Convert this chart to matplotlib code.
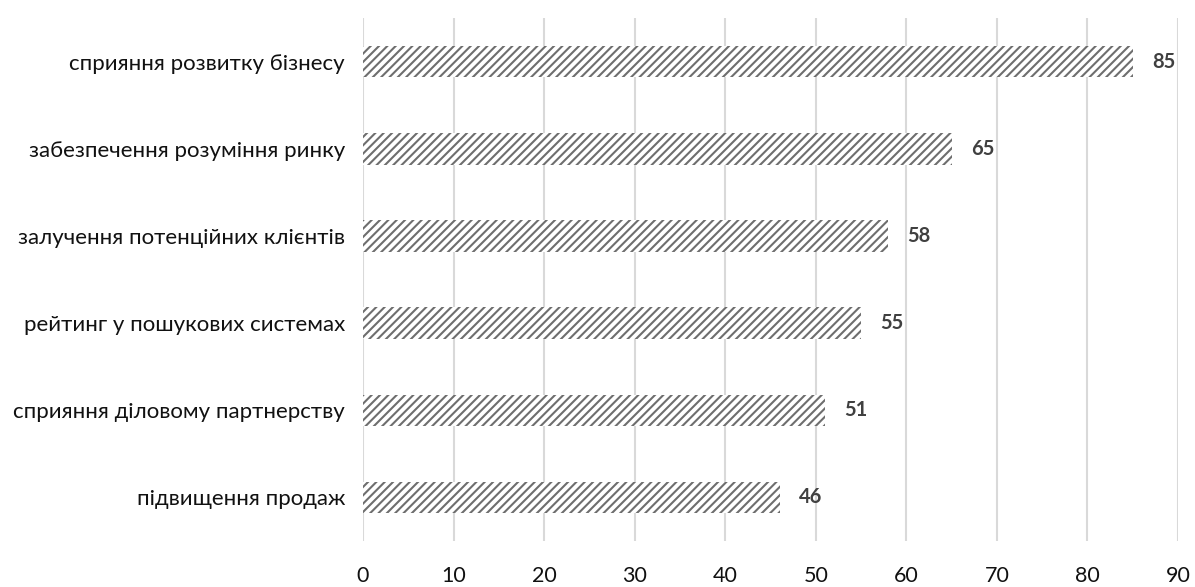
import matplotlib
matplotlib.use("Agg")
import matplotlib.pyplot as plt

categories = [
    "сприяння розвитку бізнесу",
    "забезпечення розуміння ринку",
    "залучення потенційних клієнтів",
    "рейтинг у пошукових системах",
    "сприяння діловому партнерству",
    "підвищення продаж",
]
values = [85, 65, 58, 55, 51, 46]
xticks = [0, 10, 20, 30, 40, 50, 60, 70, 80, 90]

plt.rcParams["font.family"] = ["Lato", "DejaVu Sans"]
plt.rcParams["hatch.linewidth"] = 1.5

fig = plt.figure(figsize=(11.95, 5.87), dpi=100)
ax = fig.add_axes([0.3038, 0.0784, 0.682, 0.8906])

ypos = list(range(len(categories)))
ax.barh(ypos, values, height=0.36, color="white", edgecolor="#6e6e6e",
        hatch="////", linewidth=0, zorder=3)

for y, v in zip(ypos, values):
    ax.text(v + 2.1, y, str(v), va="center", ha="left", fontsize=14.5,
            fontweight="bold", color="#404040", zorder=4)

ax.set_xlim(0, 90)
ax.set_ylim(len(categories) - 0.5, -0.5)
ax.set_yticks(ypos)
ax.set_yticklabels(categories, fontsize=16, color="#111111")
ax.set_xticks(xticks)
ax.set_xticklabels([str(t) for t in xticks], fontsize=15.5, color="#111111")
ax.tick_params(axis="both", length=0)
ax.tick_params(axis="y", pad=13)
ax.tick_params(axis="x", pad=18)
ax.xaxis.grid(True, color="#d9d9d9", linewidth=1.5, zorder=0)
for s in ax.spines.values():
    s.set_visible(False)

fig.savefig("out.png", dpi=100, facecolor="white")
